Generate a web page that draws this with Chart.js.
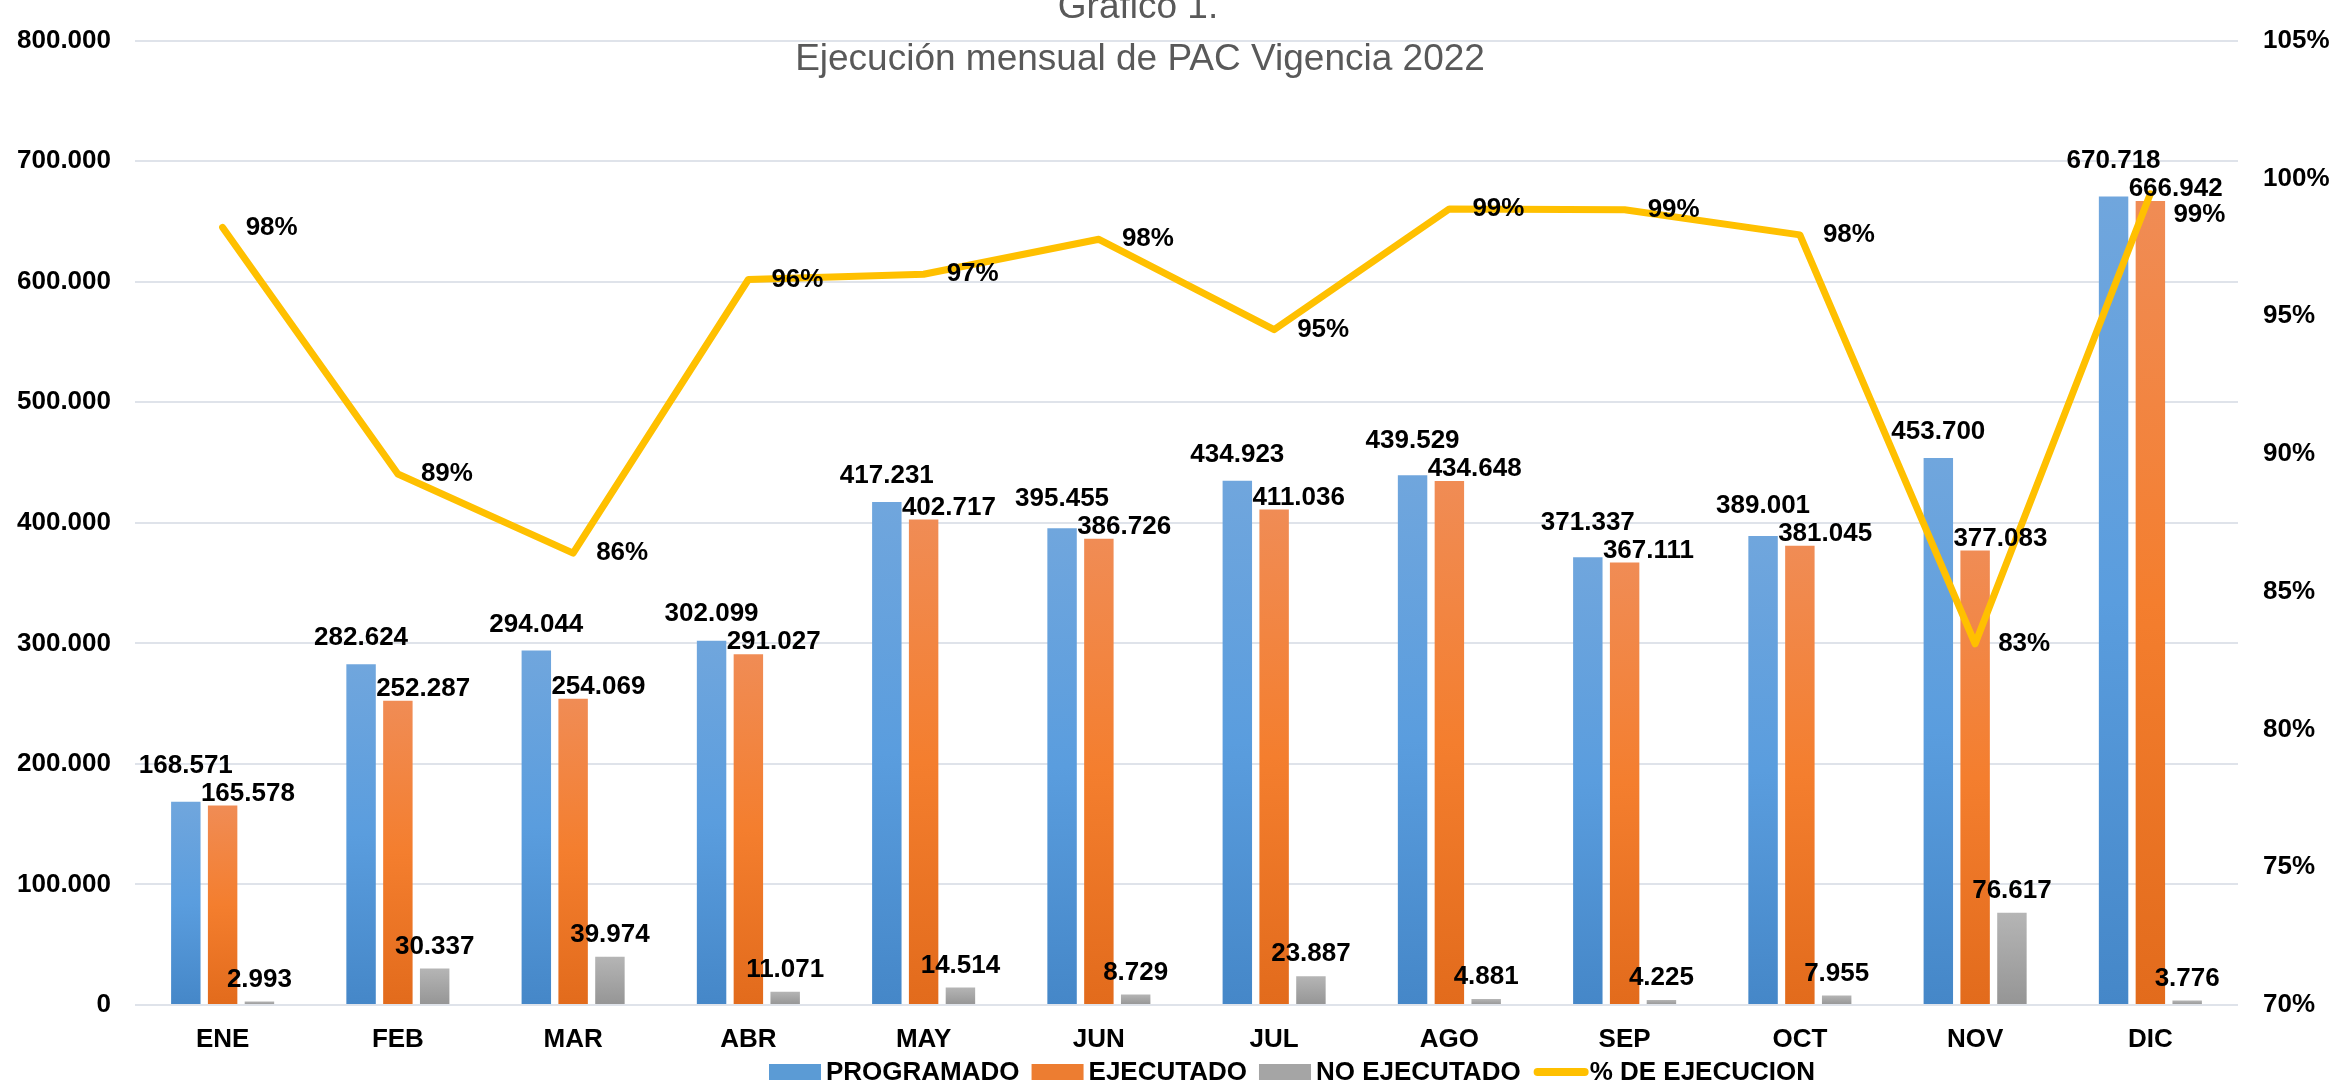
<!DOCTYPE html>
<html><head><meta charset="utf-8">
<script src="https://cdn.jsdelivr.net/npm/chart.js@4.4.1/dist/chart.umd.min.js"></script>
<style>html,body{margin:0;padding:0;background:#fff;overflow:hidden}#wrap{width:2335px;height:1086px;position:relative}</style>
</head><body><div id="wrap"><canvas id="c" width="2335" height="1086"></canvas></div>
<script>
const categories = ['ENE','FEB','MAR','ABR','MAY','JUN','JUL','AGO','SEP','OCT','NOV','DIC'];
const programado = [168571, 282624, 294044, 302099, 417231, 395455, 434923, 439529, 371337, 389001, 453700, 670718];
const ejecutado = [165578, 252287, 254069, 291027, 402717, 386726, 411036, 434648, 367111, 381045, 377083, 666942];
const noEjecutado = [2993, 30337, 39974, 11071, 14514, 8729, 23887, 4881, 4225, 7955, 76617, 3776];
const pctEjecucion = [98.22, 89.27, 86.40, 96.33, 96.52, 97.79, 94.51, 98.89, 98.86, 97.95, 83.11, 99.44];
const seriesNames = ['PROGRAMADO', 'EJECUTADO', 'NO EJECUTADO', '% DE EJECUCION'];
const titleLines = ['Grafico 1.', 'Ejecución mensual de PAC Vigencia 2022'];

const FONT = '"Liberation Sans", Arial, sans-serif';
const blueStops = ['#70A6DD', '#5A9DDE', '#4587C8'];
const orangeStops = ['#F08C55', '#F47E2E', '#E26B1C'];
const grayStops = ['#B5B5B5', '#A5A5A5', '#959595'];
const legendColors = ['#5B9BD5', '#ED7D31', '#A5A5A5', '#FFC000'];

function fmt(v){ return String(Math.round(v)).replace(/\B(?=(\d{3})+(?!\d))/g, '.'); }

function barGradient(stops){
  return (c) => {
    const chart = c.chart;
    if (!chart.chartArea || c.type !== 'data' || !c.parsed) return stops[1];
    const ys = chart.scales.y;
    const top = ys.getPixelForValue(c.parsed.y);
    const bottom = ys.getPixelForValue(0);
    if (!isFinite(top) || !isFinite(bottom) || bottom - top < 1) return stops[1];
    const g = chart.ctx.createLinearGradient(0, top, 0, bottom);
    g.addColorStop(0, stops[0]); g.addColorStop(0.5, stops[1]); g.addColorStop(1, stops[2]);
    return g;
  };
}

const titlePlugin = {
  id: 'titleText',
  afterDraw(chart){
    const ctx = chart.ctx; ctx.save();
    ctx.fillStyle = '#595959'; ctx.textAlign = 'center'; ctx.textBaseline = 'alphabetic';
    ctx.font = '37px ' + FONT;
    ctx.fillText(titleLines[0], 1138, 18);
    ctx.fillText(titleLines[1], 1140, 70);
    ctx.restore();
  }
};

const labelPlugin = {
  id: 'valueLabels',
  afterDatasetsDraw(chart){
    const ctx = chart.ctx; ctx.save();
    ctx.font = 'bold 26px ' + FONT; ctx.fillStyle = '#000'; ctx.textBaseline = 'middle';
    const mP = chart.getDatasetMeta(0).data, mE = chart.getDatasetMeta(1).data,
          mN = chart.getDatasetMeta(2).data, mL = chart.getDatasetMeta(3).data;
    for (let i = 0; i < categories.length; i++){
      const bE = mE[i], bP = mP[i], bN = mN[i], pt = mL[i];
      const yE = bE.y - 12;
      const xE = bE.x - bE.width/2 - 7;
      ctx.textAlign = 'left';
      ctx.fillText(fmt(ejecutado[i]), xE, yE);
      ctx.textAlign = 'center';
      ctx.fillText(fmt(programado[i]), bP.x, Math.min(bP.y - 26, yE - 28));
      ctx.fillText(fmt(noEjecutado[i]), bN.x, bN.y - 22);
      ctx.textAlign = 'left';
      let yP = pt.y;
      const wE = ctx.measureText(fmt(ejecutado[i])).width;
      if (pt.x + 22 < xE + wE && Math.abs(yP - yE) < 26) yP = yE + 26;
      ctx.fillText(Math.round(pctEjecucion[i]) + '%', pt.x + 23, yP);
    }
    ctx.restore();
  }
};

const legendPlugin = {
  id: 'bottomLegend',
  afterDraw(chart){
    const ctx = chart.ctx; ctx.save();
    ctx.font = 'bold 26px ' + FONT; ctx.textBaseline = 'middle'; ctx.textAlign = 'left';
    const yc = 1072; let x = 769;
    seriesNames.forEach((name, i) => {
      if (i < 3){
        ctx.fillStyle = legendColors[i];
        ctx.fillRect(x, yc - 8, 52, 16);
      } else {
        ctx.strokeStyle = legendColors[i]; ctx.lineWidth = 8; ctx.lineCap = 'round';
        ctx.beginPath(); ctx.moveTo(x + 5, yc); ctx.lineTo(x + 52, yc); ctx.stroke();
      }
      x += 57;
      ctx.fillStyle = '#000';
      ctx.fillText(name, x, yc + 1);
      x += ctx.measureText(name).width + 12;
    });
    ctx.restore();
  }
};

new Chart(document.getElementById('c'), {
  data: {
    labels: categories,
    datasets: [
      { type: 'bar', label: seriesNames[0], data: programado, backgroundColor: barGradient(blueStops), yAxisID: 'y', order: 1, categoryPercentage: 0.63, barPercentage: 0.8 },
      { type: 'bar', label: seriesNames[1], data: ejecutado, backgroundColor: barGradient(orangeStops), yAxisID: 'y', order: 1, categoryPercentage: 0.63, barPercentage: 0.8 },
      { type: 'bar', label: seriesNames[2], data: noEjecutado, backgroundColor: barGradient(grayStops), yAxisID: 'y', order: 1, categoryPercentage: 0.63, barPercentage: 0.8 },
      { type: 'line', label: seriesNames[3], data: pctEjecucion, borderColor: '#FFC000', backgroundColor: '#FFC000', borderWidth: 7, pointRadius: 0, tension: 0, yAxisID: 'y1', order: 0, borderJoinStyle: 'round', borderCapStyle: 'round' }
    ]
  },
  options: {
    responsive: false, animation: false, devicePixelRatio: 1,
    layout: { padding: { top: 25, left: 0, right: 0, bottom: 0 } },
    plugins: { legend: { display: false }, tooltip: { enabled: false }, title: { display: false } },
    scales: {
      x: {
        grid: { display: false }, border: { display: false },
        ticks: { color: '#000', font: { family: FONT, size: 26, weight: 'bold' }, padding: 11 },
        afterFit(s){ s.height = 81; }
      },
      y: {
        position: 'left', min: 0, max: 800000,
        ticks: { stepSize: 100000, color: '#000', font: { family: FONT, size: 26, weight: 'bold' }, padding: 24, callback: (v) => fmt(v) },
        grid: { color: '#DFE3EA', lineWidth: 2, drawTicks: false }, border: { display: false },
        afterFit(s){ s.width = 135; }
      },
      y1: {
        position: 'right', min: 70, max: 105,
        ticks: { stepSize: 5, color: '#000', font: { family: FONT, size: 26, weight: 'bold' }, padding: 25, callback: (v) => Math.round(v) + '%' },
        grid: { display: false, drawTicks: false }, border: { display: false },
        afterFit(s){ s.width = 97; }
      }
    }
  },
  plugins: [labelPlugin, titlePlugin, legendPlugin]
});
</script></body></html>
